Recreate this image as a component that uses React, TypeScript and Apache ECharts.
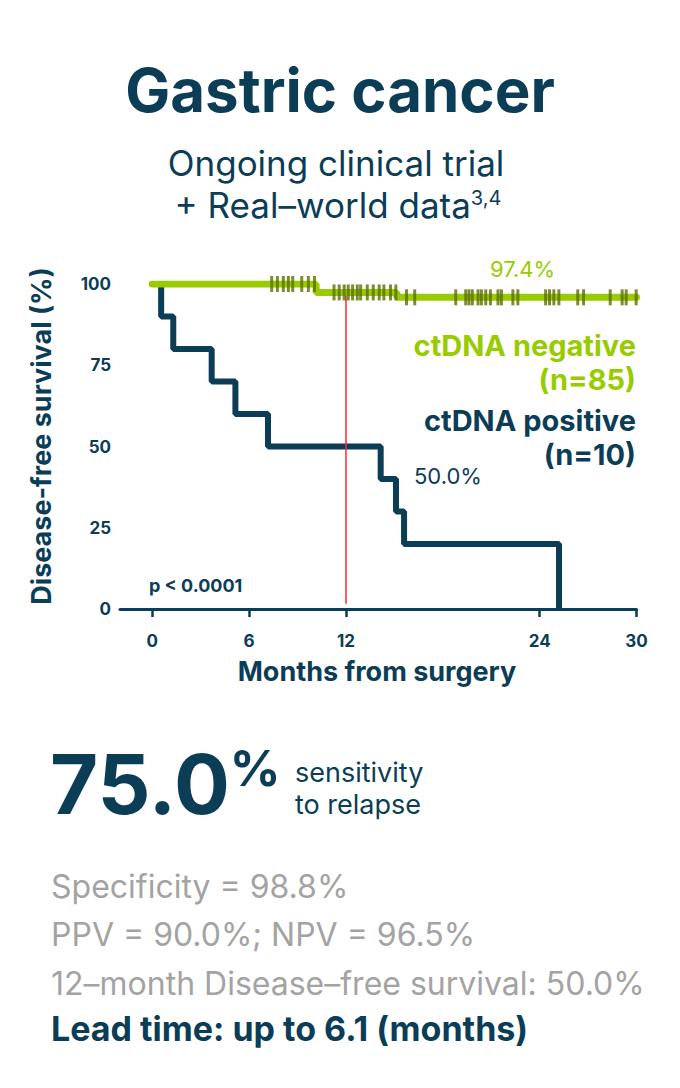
import React, { useEffect, useRef } from 'react';
import * as echarts from 'echarts';

const FONT = 'Inter, "Noto Sans", sans-serif';
const NAVY = '#0b3d57';
const GREEN = '#99cc00';
const OLIVE = '#5c6e00';
const RED = '#ff2a2a';
const GRAY = '#a3a3a3';

// ctDNA positive (n=10) Kaplan–Meier steps
const positiveTimes = [0, 0.55, 1.3, 3.68, 5.15, 7.17, 14.15, 15.1, 15.6, 25.2];
const positiveSurv = [100, 90, 80, 70, 60, 50, 40, 30, 20, 0];

// ctDNA negative (n=85) Kaplan–Meier steps
const negativeTimes = [0, 10.15, 15.15, 30];
const negativeSurv = [100, 97.4, 95.9, 95.9];

// censor marks on the ctDNA negative curve (months)
const censorTimes = [
  7.4, 7.75, 8.12, 8.43, 8.7, 9.26, 9.67, 10.05,
  11.26, 11.58, 11.89, 12.14, 12.41, 12.7, 12.91, 13.32, 13.69, 14.06, 14.35, 14.76, 15.09,
  15.75, 16.26, 18.8, 19.42, 19.62, 19.83, 20.18, 20.39, 20.66, 20.95, 21.42, 21.63,
  22.34, 22.65, 24.37, 24.61, 24.88, 25.19, 26.36, 26.72, 28.37, 29.11, 29.36, 29.98,
];

// 12-month landmark
const landmarkMonth = 12;
const landmarkRange = [97.4, 1.6];

const xTicks = [0, 6, 12, 24, 30];
const yTicks = [0, 25, 50, 75, 100];

function levelAt(t: number) {
  let v = negativeSurv[0];
  for (let i = 0; i < negativeTimes.length; i++) {
    if (negativeTimes[i] <= t) v = negativeSurv[i];
  }
  return v;
}

function txt(text: string, x: number, y: number, opts: any = {}) {
  const align = opts.align || 'left';
  return {
    type: 'text',
    x,
    y,
    rotation: opts.rotation || 0,
    z: 100,
    style: {
      text,
      fill: opts.fill || NAVY,
      fontSize: opts.fontSize || 16,
      fontWeight: opts.fontWeight || 'normal',
      fontFamily: FONT,
      lineHeight: opts.lineHeight,
      align,
      textAlign: align,
      verticalAlign: 'middle',
      textVerticalAlign: 'middle',
      rich: opts.rich,
    },
  };
}

export default function App() {
  const ref = useRef<HTMLDivElement>(null);
  useEffect(() => {
    document.body.style.margin = '0';
    const chart = echarts.init(ref.current!, null, { renderer: 'svg' });
    const option: any = {
      animation: false,
      backgroundColor: '#ffffff',
      textStyle: { fontFamily: FONT },
      grid: { left: 120, right: 43.5, top: 284, bottom: 479, containLabel: false },
      xAxis: {
        type: 'value',
        min: -2,
        max: 30,
        axisLine: { show: true, lineStyle: { color: NAVY, width: 3 } },
        axisTick: { show: true, customValues: xTicks, length: 8, lineStyle: { color: NAVY, width: 2.5 } },
        axisLabel: {
          customValues: xTicks,
          color: NAVY,
          fontSize: 17,
          fontWeight: 'bold',
          fontFamily: FONT,
          margin: 23,
        },
        splitLine: { show: false },
      },
      yAxis: {
        type: 'value',
        min: 0,
        max: 100,
        interval: 25,
        axisLine: { show: false },
        axisTick: { show: false },
        axisLabel: {
          color: NAVY,
          fontSize: 17,
          fontWeight: 'bold',
          fontFamily: FONT,
          margin: 9,
        },
        splitLine: { show: false },
      },
      series: [
        {
          name: 'ctDNA positive',
          type: 'line',
          step: 'end',
          symbol: 'none',
          z: 2,
          lineStyle: { color: NAVY, width: 6 },
          data: positiveTimes.map((t, i) => [t, positiveSurv[i]]),
        },
        {
          name: '12-month',
          type: 'line',
          symbol: 'none',
          z: 3,
          lineStyle: { color: RED, width: 1.5 },
          data: landmarkRange.map((v) => [landmarkMonth, v]),
        },
        {
          name: 'ctDNA negative',
          type: 'line',
          step: 'end',
          symbol: 'none',
          z: 4,
          lineStyle: { color: GREEN, width: 7, cap: 'round' },
          data: negativeTimes.map((t, i) => [t, negativeSurv[i]]),
        },
        {
          name: 'censored',
          type: 'scatter',
          symbol: 'rect',
          symbolSize: [3, 16],
          z: 5,
          itemStyle: { color: OLIVE },
          data: censorTimes.map((t) => [t, levelAt(t)]),
        },
      ],
      graphic: [
        txt('Gastric cancer', 340, 90, { fontSize: 60, fontWeight: 'bold', align: 'center' }),
        txt('Ongoing clinical trial', 336, 163, { fontSize: 35, align: 'center' }),
        txt('{a|+ Real–world data}{s|3,4}', 338, 205, {
          align: 'center',
          fontSize: 35,
          rich: {
            a: { fontSize: 35, fontFamily: FONT, fill: NAVY, color: NAVY },
            s: { fontSize: 20, fontFamily: FONT, fill: NAVY, color: NAVY, verticalAlign: 'top' },
          },
        }),
        txt('Disease-free survival (%)', 41, 436, {
          fontSize: 27,
          fontWeight: 'bold',
          align: 'center',
          rotation: Math.PI / 2,
        }),
        txt('Months from surgery', 377, 671, { fontSize: 27, fontWeight: 'bold', align: 'center' }),
        txt('p < 0.0001', 149, 585, { fontSize: 18, fontWeight: 'bold' }),
        txt('97.4%', 490, 269, { fontSize: 22, fill: GREEN }),
        txt('50.0%', 414, 476, { fontSize: 22 }),
        txt('ctDNA negative', 636, 345, { fontSize: 29, fontWeight: 'bold', fill: GREEN, align: 'right' }),
        txt('(n=85)', 636, 379.5, { fontSize: 29, fontWeight: 'bold', fill: GREEN, align: 'right' }),
        txt('ctDNA positive', 636, 420, { fontSize: 29, fontWeight: 'bold', align: 'right' }),
        txt('(n=10)', 636, 454.5, { fontSize: 29, fontWeight: 'bold', align: 'right' }),
        txt('{n|75.0}{p|%}', 50, 784, {
          fontSize: 83,
          fontWeight: 'bold',
          rich: {
            n: { fontSize: 83, fontWeight: 'bold', fontFamily: FONT, fill: NAVY, color: NAVY },
            p: { fontSize: 50, fontWeight: 'bold', fontFamily: FONT, fill: NAVY, color: NAVY, verticalAlign: 'top' },
          },
        }),
        txt('sensitivity', 295, 772.5, { fontSize: 27 }),
        txt('to relapse', 295, 804.5, { fontSize: 27 }),
        txt('Specificity = 98.8%', 51, 886, { fontSize: 32, fill: GRAY }),
        txt('PPV = 90.0%; NPV = 96.5%', 51, 934, { fontSize: 32, fill: GRAY }),
        txt('12–month Disease–free survival: 50.0%', 51, 983, { fontSize: 32, fill: GRAY }),
        txt('Lead time: up to 6.1 (months)', 51, 1028, { fontSize: 34, fontWeight: 'bold' }),
      ],
    };
    chart.setOption(option);
    return () => chart.dispose();
  }, []);
  return <div ref={ref} style={{ width: 680, height: 1088, background: '#ffffff' }} />;
}
